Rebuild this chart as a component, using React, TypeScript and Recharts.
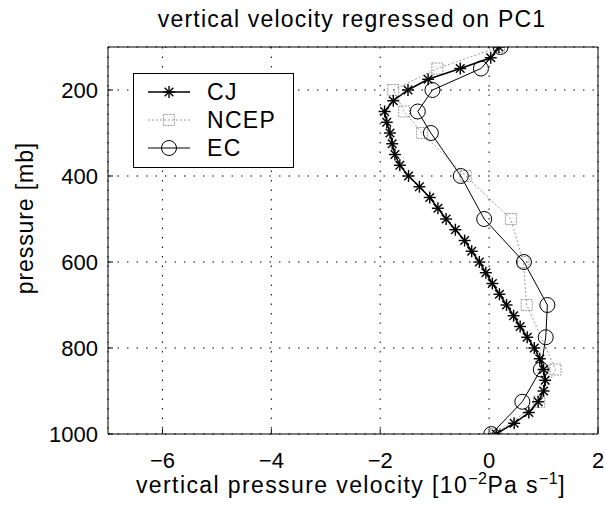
import React from 'react'
import {
    ScatterChart,
    Scatter,
    XAxis,
    YAxis,
    CartesianGrid,
    Customized,
} from 'recharts'

// CJ profile, 25 mb levels
const cjLevels = [
    100, 125, 150, 175, 200, 225, 250, 275, 300, 325, 350, 375, 400, 425, 450,
    475, 500, 525, 550, 575, 600, 625, 650, 675, 700, 725, 750, 775, 800, 825,
    850, 875, 900, 925, 950, 975, 1000,
]
const cjOmega = [
    0.18, 0.03, -0.53, -1.12, -1.49, -1.76, -1.92, -1.88, -1.82, -1.78, -1.73,
    -1.64, -1.48, -1.28, -1.09, -0.94, -0.79, -0.62, -0.45, -0.32, -0.18,
    -0.06, 0.06, 0.19, 0.32, 0.45, 0.57, 0.7, 0.83, 0.93, 1.0, 1.03, 1.0,
    0.9, 0.73, 0.46, 0.13,
]

const ncepLevels = [100, 150, 200, 250, 300, 400, 500, 600, 700, 850, 925, 1000]
const ncepOmega = [0.18, -0.95, -1.76, -1.56, -1.23, -0.43, 0.4, 0.63, 0.69, 1.22, 0.92, 0.12]

const ecLevels = [100, 150, 200, 250, 300, 400, 500, 600, 700, 775, 850, 925, 1000]
const ecOmega = [0.21, -0.15, -1.04, -1.31, -1.07, -0.52, -0.09, 0.64, 1.07, 1.04, 0.95, 0.61, 0.04]

const xTicks = [-6, -4, -2, 0, 2]
const yTicks = [200, 400, 600, 800, 1000]

const toPoints = (levels: number[], omega: number[]) =>
    levels.map((p, i) => ({ p, w: omega[i] }))

const cjData = toPoints(cjLevels, cjOmega)
const ncepData = toPoints(ncepLevels, ncepOmega)
const ecData = toPoints(ecLevels, ecOmega)

const FONT = '"Liberation Sans", Arial, Helvetica, sans-serif'
const NCEP_GRAY = '#9a9a9a'

const fmt = (v: number) => (v < 0 ? '\u2212' + Math.abs(v) : String(v))

function Star({ cx, cy, r = 6 }: { cx: number; cy: number; r?: number }) {
    const d = r * 0.72
    return (
        <g stroke="#000" strokeWidth={1.4}>
            <line x1={cx - r} y1={cy} x2={cx + r} y2={cy} />
            <line x1={cx} y1={cy - r} x2={cx} y2={cy + r} />
            <line x1={cx - d} y1={cy - d} x2={cx + d} y2={cy + d} />
            <line x1={cx - d} y1={cy + d} x2={cx + d} y2={cy - d} />
        </g>
    )
}

function Square({ cx, cy }: { cx: number; cy: number }) {
    return (
        <rect
            x={cx - 5.5}
            y={cy - 5.5}
            width={11}
            height={11}
            fill="none"
            stroke={NCEP_GRAY}
            strokeWidth={1}
            strokeDasharray="2 1"
        />
    )
}

function Ring({ cx, cy }: { cx: number; cy: number }) {
    return <circle cx={cx} cy={cy} r={7.5} fill="none" stroke="#000" strokeWidth={1} />
}

function Decorations() {
    const rows = [
        { y: 92, label: 'CJ', kind: 'cj' },
        { y: 120, label: 'NCEP', kind: 'ncep' },
        { y: 148, label: 'EC', kind: 'ec' },
    ]
    return (
        <g fontFamily={FONT} fill="#000">
            <text x={352} y={27} fontSize={23} textAnchor="middle" letterSpacing={1.2}>
                vertical velocity regressed on PC1
            </text>
            <text x={351} y={493} fontSize={23} textAnchor="middle" letterSpacing={1.4}>
                vertical pressure velocity [10
                <tspan fontSize={16} dy={-9} letterSpacing={0.5}>{'\u2212'}2</tspan>
                <tspan dy={9}>Pa s</tspan>
                <tspan fontSize={16} dy={-9} letterSpacing={0.5}>{'\u2212'}1</tspan>
                <tspan dy={9}>]</tspan>
            </text>
            <text
                x={33}
                y={218}
                fontSize={23}
                textAnchor="middle"
                letterSpacing={0.9}
                transform="rotate(-90 33 218)"
            >
                pressure [mb]
            </text>
            <rect x={133.5} y={73.5} width={160} height={94} fill="#fff" stroke="#000" />
            {rows.map((r) => (
                <g key={r.label}>
                    <line
                        x1={148}
                        x2={190}
                        y1={r.y}
                        y2={r.y}
                        stroke={r.kind === 'ncep' ? NCEP_GRAY : '#000'}
                        strokeWidth={r.kind === 'cj' ? 1.4 : 1}
                        strokeDasharray={r.kind === 'ncep' ? '2 2' : undefined}
                    />
                    {r.kind === 'cj' && <Star cx={169} cy={r.y} />}
                    {r.kind === 'ncep' && <Square cx={169} cy={r.y} />}
                    {r.kind === 'ec' && <Ring cx={169} cy={r.y} />}
                    <text x={207} y={r.y + 8} fontSize={23} letterSpacing={1.3}>
                        {r.label}
                    </text>
                </g>
            ))}
        </g>
    )
}

const tickStyle = { fill: '#000', fontSize: 22, fontFamily: FONT }

export default function App() {
    return (
        <div style={{ position: 'absolute', left: 0, top: 0, background: '#fff' }}>
            <ScatterChart
                width={605}
                height={514}
                margin={{ top: 46, right: 6, bottom: 0, left: 0 }}
            >
                <CartesianGrid stroke="#000" strokeDasharray="1.5 8" />
                <XAxis
                    type="number"
                    dataKey="w"
                    domain={[-7, 2]}
                    ticks={xTicks}
                    allowDataOverflow
                    height={80}
                    tickFormatter={fmt}
                    tick={tickStyle}
                    tickSize={-5}
                    tickMargin={23}
                    stroke="#000"
                    axisLine={{ stroke: '#000' }}
                    tickLine={{ stroke: '#000' }}
                />
                <XAxis
                    xAxisId="top"
                    orientation="top"
                    type="number"
                    domain={[-7, 2]}
                    ticks={xTicks}
                    allowDataOverflow
                    height={1}
                    tick={false}
                    tickSize={-5}
                    axisLine={{ stroke: '#000' }}
                    tickLine={{ stroke: '#000' }}
                />
                <YAxis
                    type="number"
                    dataKey="p"
                    domain={[100, 1000]}
                    ticks={yTicks}
                    reversed
                    allowDataOverflow
                    width={108}
                    tick={tickStyle}
                    tickSize={-5}
                    tickMargin={15}
                    axisLine={{ stroke: '#000' }}
                    tickLine={{ stroke: '#000' }}
                />
                <YAxis
                    yAxisId="right"
                    orientation="right"
                    type="number"
                    domain={[100, 1000]}
                    ticks={yTicks}
                    reversed
                    allowDataOverflow
                    width={1}
                    tick={false}
                    tickSize={-5}
                    axisLine={{ stroke: '#000' }}
                    tickLine={{ stroke: '#000' }}
                />
                <Scatter
                    name="NCEP"
                    data={ncepData}
                    isAnimationActive={false}
                    line={{ stroke: NCEP_GRAY, strokeWidth: 1, strokeDasharray: '2 2' }}
                    shape={(props: any) => <Square cx={props.cx} cy={props.cy} />}
                />
                <Scatter
                    name="EC"
                    data={ecData}
                    isAnimationActive={false}
                    line={{ stroke: '#000', strokeWidth: 1 }}
                    shape={(props: any) => <Ring cx={props.cx} cy={props.cy} />}
                />
                <Scatter
                    name="CJ"
                    data={cjData}
                    isAnimationActive={false}
                    line={{ stroke: '#000', strokeWidth: 1.5 }}
                    shape={(props: any) => <Star cx={props.cx} cy={props.cy} />}
                />
                <Customized component={Decorations} />
            </ScatterChart>
        </div>
    )
}
